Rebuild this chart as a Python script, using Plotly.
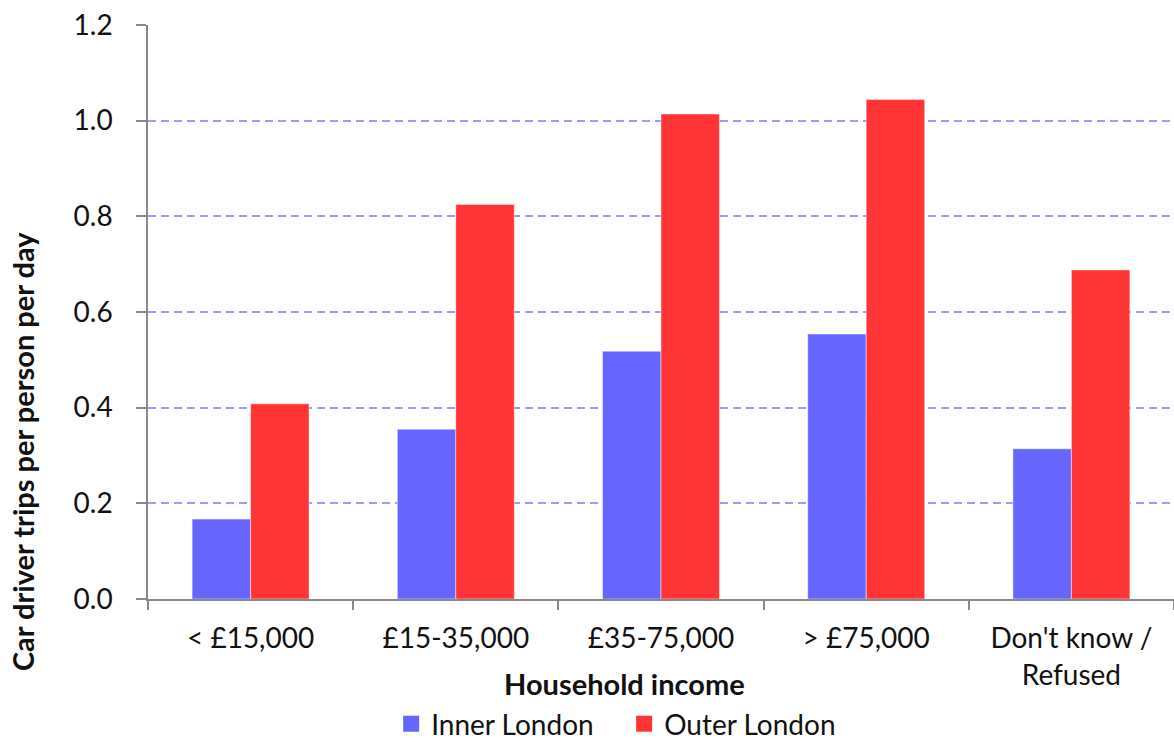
import plotly.graph_objects as go

# Car driver trip rates by household income, Inner vs Outer London
income_bands = ["< £15,000", "£15-35,000", "£35-75,000", "> £75,000", "Don't know /<br>Refused"]
inner_london = [0.167, 0.355, 0.518, 0.554, 0.314]
outer_london = [0.408, 0.825, 1.014, 1.044, 0.688]
y_ticks = [0.0, 0.2, 0.4, 0.6, 0.8, 1.0, 1.2]

FONT = "Lato"
AXIS_GREY = "#888888"
INNER_COLOUR = "#6666ff"
OUTER_COLOUR = "#ff3535"

fig = go.Figure()
fig.add_trace(go.Bar(
    x=income_bands, y=inner_london, name="Inner London", showlegend=False,
    marker=dict(color=INNER_COLOUR, line=dict(color="rgba(255,255,255,0.45)", width=1)),
))
fig.add_trace(go.Bar(
    x=income_bands, y=outer_london, name="Outer London", showlegend=False,
    marker=dict(color=OUTER_COLOUR, line=dict(color="rgba(255,255,255,0.45)", width=1)),
))

# Legend entries with larger square swatches
for name, colour in [("Inner London", INNER_COLOUR), ("Outer London", OUTER_COLOUR)]:
    fig.add_trace(go.Scatter(
        x=[None], y=[None], mode="markers", name=name,
        marker=dict(symbol="square", size=16, color=colour),
    ))

fig.update_layout(
    width=1174, height=742,
    margin=dict(l=148, r=0, t=25, b=143, autoexpand=False),
    paper_bgcolor="white", plot_bgcolor="white",
    barmode="group", bargap=0.43, bargroupgap=0,
    font=dict(family=FONT, size=28, color="#111111"),
    showlegend=True,
    legend=dict(
        orientation="h", x=0.237, xanchor="left", y=-0.218, yanchor="middle",
        font=dict(family=FONT, size=28), itemwidth=30, traceorder="normal",
        entrywidth=188,
    ),
    xaxis=dict(
        type="category", showline=True, linecolor=AXIS_GREY, linewidth=1.5,
        ticks="outside", tickson="boundaries", ticklen=9, tickcolor=AXIS_GREY, tickwidth=1.5,
        showgrid=False, tickfont=dict(family=FONT, size=28), ticklabelstandoff=14,
    ),
    yaxis=dict(
        range=[0, 1.2], tickvals=y_ticks, tickformat=".1f",
        showline=True, linecolor=AXIS_GREY, linewidth=1.5,
        ticks="outside", ticklen=10, tickcolor=AXIS_GREY, tickwidth=1.5,
        showgrid=True, gridcolor="#9a9aff", gridwidth=1.6, griddash="8px,5px",
        zeroline=False, tickfont=dict(family=FONT, size=28), ticklabelstandoff=18,
    ),
    annotations=[
        dict(text="<b>Household income</b>", xref="paper", yref="paper",
             x=0.464, y=-0.148, xanchor="center", yanchor="middle",
             showarrow=False, font=dict(family=FONT, size=29)),
        dict(text="<b>Car driver trips per person per day</b>", xref="paper", yref="paper",
             x=-0.1228, y=0.256, xanchor="center", yanchor="middle", textangle=-90,
             showarrow=False, font=dict(family=FONT, size=29)),
    ],
)

fig.write_html("out.html")
